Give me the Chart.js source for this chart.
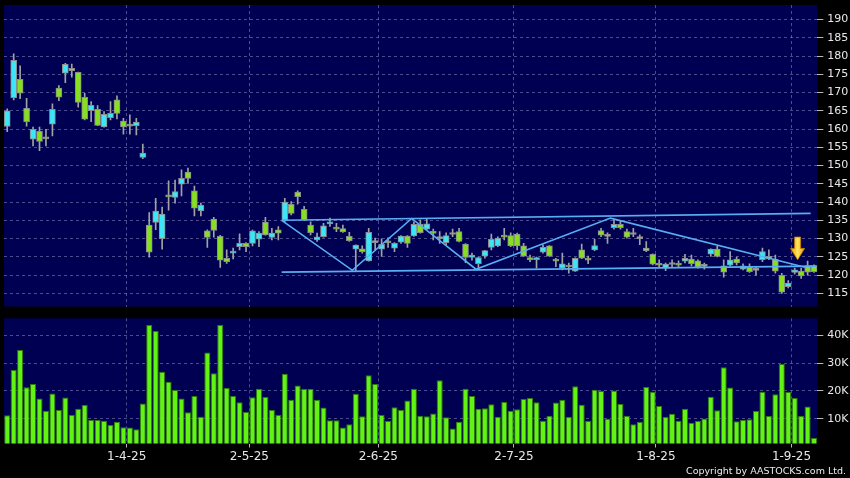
<!DOCTYPE html>
<html lang="en">
<head>
<meta charset="UTF-8">
<title>Daily candles and volume</title>
<script src="https://cdn.jsdelivr.net/npm/chart.js"></script>
<style>
  html, body { margin: 0; padding: 0; background: #000; }
  #wrap { position: relative; width: 850px; height: 478px; overflow: hidden; background: #000; }
  #priceBox { position: absolute; left: 0; top: 0; width: 850px; height: 312px; }
  #volBox { position: absolute; left: 0; top: 312px; width: 850px; height: 166px; }
  .copy { position: absolute; right: 4px; top: 465px; color: #ececec; font: 9.5px "DejaVu Sans", sans-serif; white-space: nowrap; }
</style>
</head>
<body>
<div id="wrap">
  <div id="priceBox"><canvas id="priceChart" width="850" height="312"></canvas></div>
  <div id="volBox"><canvas id="volChart" width="850" height="166"></canvas></div>
  <div class="copy">Copyright by AASTOCKS.com Ltd.</div>
</div>

<script>
// trading days 5 Mar 2025 - 4 Sep 2025 (HK holidays skipped)
const firstDay = '2025-03-05';
const lastDay = '2025-09-04';
const holidays = ['2025-04-04', '2025-04-18', '2025-04-21', '2025-05-01', '2025-05-05', '2025-07-01'];
const tickLabels = ['1-4-25', '2-5-25', '2-6-25', '2-7-25', '1-8-25', '1-9-25'];

const openP = [160.7,168.6,173.6,165.7,157.2,159.4,157.5,161.3,171.2,175.3,176.6,175.5,168.7,165.0,165.4,160.6,163.1,168.0,162.2,161.0,
  160.9,152.2,133.7,134.4,130.0,141.6,141.3,144.9,148.2,143.1,137.6,132.1,135.3,130.6,124.6,126.0,127.8,128.7,128.7,129.8,
  134.5,130.3,132.4,135.1,139.4,142.7,138.0,133.7,129.6,130.5,134.0,132.7,132.7,130.6,127.1,127.2,123.9,129.1,127.1,129.0,
  127.4,129.0,130.7,130.7,133.9,132.6,131.5,130.2,128.9,131.1,131.9,128.5,124.8,123.1,125.2,127.6,128.0,130.6,130.8,131.2,
  128.0,124.8,124.2,126.3,128.0,124.0,121.9,122.4,121.1,126.9,124.2,126.9,132.2,130.8,133.0,133.9,131.9,131.3,130.2,127.4,
  125.7,122.9,121.9,123.1,123.1,123.8,124.4,123.9,122.6,125.7,127.1,122.5,122.7,124.4,121.6,122.3,121.5,124.2,125.1,124.3,
  119.9,116.8,120.7,121.1,122.6,122.6];
const highP = [165.5,180.6,177.3,168.4,160.5,160.5,159.9,166.9,171.9,178.0,177.8,175.6,169.8,167.5,166.4,164.8,167.5,169.1,162.9,163.9,
  162.9,155.9,137.1,141.0,138.6,145.8,146.0,148.8,149.3,144.4,139.7,132.4,135.8,130.9,126.9,127.4,131.3,128.9,132.3,131.9,
  135.8,132.8,133.3,141.0,140.1,143.1,138.8,134.6,131.5,134.2,135.6,134.2,133.7,131.7,128.3,128.0,132.8,130.1,129.9,130.2,
  128.9,130.8,130.8,134.6,135.1,135.3,132.6,131.9,131.6,132.6,132.8,128.6,126.0,124.9,126.8,131.2,130.5,132.8,131.6,131.5,
  128.7,125.5,124.9,128.3,128.1,124.6,126.0,123.3,124.7,128.5,125.2,129.8,132.8,131.6,135.3,134.9,132.6,132.8,131.0,129.2,
  125.8,124.2,123.3,124.2,123.9,125.7,125.5,124.2,123.3,127.2,127.9,124.2,126.4,124.9,123.1,123.1,122.3,127.4,126.9,125.5,
  120.5,118.5,121.9,121.9,123.8,122.8];
const lowP = [159.3,168.0,168.3,160.8,155.4,154.1,155.4,158.1,167.8,172.7,174.2,166.0,162.5,162.0,160.9,160.5,162.5,162.8,158.6,158.6,
  158.4,151.9,124.9,132.4,127.1,137.8,139.7,141.7,145.1,136.2,136.2,127.6,130.4,122.1,123.2,124.4,126.9,126.4,128.0,127.8,
  130.9,129.6,129.6,134.6,136.5,139.4,135.0,131.0,129.2,130.4,133.3,131.9,131.7,129.2,121.2,126.0,123.8,126.7,125.1,127.6,
  126.4,128.7,127.6,130.6,131.5,132.4,129.6,128.7,128.3,130.5,129.1,123.4,124.1,121.4,124.6,126.9,127.8,129.6,127.8,126.9,
  125.1,123.7,121.9,126.0,125.1,122.3,121.4,120.5,121.0,124.5,123.1,126.7,130.5,128.7,132.6,132.6,130.1,130.5,128.3,126.4,
  122.8,122.3,121.2,122.3,122.0,123.3,122.5,121.9,121.6,125.1,125.0,119.4,122.5,122.8,121.4,120.7,120.0,123.7,124.2,120.5,
  115.0,116.5,120.3,119.1,120.0,120.7];
const closeP = [165.0,178.8,169.8,162.0,159.9,156.6,157.3,165.4,168.7,177.7,176.0,167.3,162.7,166.5,161.0,164.0,164.3,164.3,160.6,160.8,
  161.9,153.4,126.3,137.5,136.7,141.4,142.9,146.5,146.5,138.3,139.2,130.3,132.2,124.1,123.7,126.6,128.7,127.8,132.1,131.5,
  131.0,131.5,131.5,140.0,136.9,141.5,135.1,131.6,130.5,133.5,134.6,132.6,131.8,129.4,128.2,126.4,131.7,128.9,128.4,128.8,
  128.7,130.7,128.7,133.9,131.6,134.0,131.4,130.0,130.8,131.6,129.2,124.8,125.5,124.8,126.7,129.8,130.1,130.4,128.0,128.0,
  125.2,124.2,124.8,127.6,125.2,123.8,123.1,122.2,124.6,124.6,124.1,128.1,130.9,130.6,133.9,133.0,130.4,131.1,130.0,126.7,
  123.0,122.7,123.0,122.9,122.7,124.6,123.1,122.2,122.4,127.1,125.1,120.8,124.2,123.3,122.5,120.9,121.3,126.4,124.4,121.1,
  115.3,117.8,121.4,119.8,120.8,120.9];
// volume in thousands of shares
const volumeK = [11.2,27.5,34.7,21.3,22.5,17.3,12.9,19.1,13.1,17.6,11.3,13.6,14.9,9.5,9.5,9.3,7.7,8.9,6.9,6.8,
  6.2,15.5,43.7,41.5,26.9,23.3,20.3,17.3,12.3,18.2,10.7,33.8,26.3,43.7,21.0,18.2,15.9,12.4,17.7,20.8,
  17.8,13.1,11.3,26.2,16.8,21.9,20.7,20.7,16.8,14.0,9.4,9.4,6.8,8.0,19.0,10.9,25.6,22.5,11.3,9.2,
  14.1,13.1,16.5,20.7,11.1,10.9,11.9,23.8,10.5,6.5,8.9,20.8,18.2,13.6,13.8,15.2,10.7,16.0,12.9,13.4,
  17.1,17.4,15.9,9.3,11.1,15.8,16.8,10.6,21.7,15.0,9.2,20.4,20.0,10.0,20.1,15.3,11.1,8.0,8.8,21.4,
  19.7,14.6,10.6,11.8,9.3,13.6,8.5,9.2,10.1,17.9,13.0,28.5,21.2,9.1,9.5,9.8,12.8,19.7,11.0,18.8,
  29.7,19.6,17.4,11.0,14.4,3.1];

// drawn lines, x = trading-day index, y = price
const upperLine = [{x: 42.52, y: 135.0}, {x: 124.47, y: 136.9}];
const lowerLine = [{x: 42.52, y: 120.8}, {x: 125.4, y: 122.45}];
const zigzag = [{x: 42.52, y: 135.0}, {x: 53.46, y: 121.3}, {x: 62.66, y: 135.5},
  {x: 72.62, y: 121.6}, {x: 93.46, y: 135.6}, {x: 123.59, y: 122.15}];
const arrowMark = {x: 122.45, top: 130.4, tip: 124.2};

// categories
const categories = [];
for (let d = new Date(firstDay + 'T00:00:00Z'); d <= new Date(lastDay + 'T00:00:00Z'); d.setUTCDate(d.getUTCDate() + 1)) {
    const wd = d.getUTCDay();
    const iso = d.toISOString().slice(0, 10);
    if (wd === 0 || wd === 6 || holidays.includes(iso)) continue;
    categories.push(d.getUTCDate() + '-' + (d.getUTCMonth() + 1) + '-' + String(d.getUTCFullYear()).slice(2));
}

const navy = '#000052';
const gridColor = 'rgba(150,150,200,0.5)';
const labelColor = '#e8e8e8';
const upColor = '#3de6f7';
const downColor = '#86e021';

Chart.defaults.font.family = '"DejaVu Sans", sans-serif';

const bodies = openP.map((o, i) => [o, closeP[i]]);
const wicks = lowP.map((l, i) => [l, highP[i]]);
const bodyColors = openP.map((o, i) => closeP[i] >= o ? upColor : downColor);

function isLabelled(i) { return tickLabels.includes(categories[i]); }

// right axis: fixed width, no extra label padding above/below the plot
function fitRight(s) {
    s.width = 32.7;
    s.paddingTop = 0;
    s.paddingBottom = 0;
}

const plotBg = {
    id: 'plotBg',
    beforeDraw(chart) {
        const a = chart.chartArea;
        chart.ctx.save();
        chart.ctx.fillStyle = navy;
        chart.ctx.fillRect(a.left, a.top, a.right - a.left, a.bottom - a.top);
        chart.ctx.restore();
    }
};

const arrowPlugin = {
    id: 'arrowMark',
    afterDatasetsDraw(chart) {
        const ctx = chart.ctx;
        const cx = chart.scales.xl.getPixelForValue(arrowMark.x);
        const top = chart.scales.y.getPixelForValue(arrowMark.top);
        const tip = chart.scales.y.getPixelForValue(arrowMark.tip);
        const neck = top + (tip - top) * 0.5;
        const g = ctx.createLinearGradient(cx - 7, 0, cx + 7, 0);
        g.addColorStop(0, '#e89a00');
        g.addColorStop(0.5, '#ffe45a');
        g.addColorStop(1, '#e89a00');
        ctx.save();
        ctx.beginPath();
        ctx.moveTo(cx - 3, top);
        ctx.lineTo(cx + 3, top);
        ctx.lineTo(cx + 3, neck);
        ctx.lineTo(cx + 7, neck);
        ctx.lineTo(cx, tip);
        ctx.lineTo(cx - 7, neck);
        ctx.lineTo(cx - 3, neck);
        ctx.closePath();
        ctx.fillStyle = g;
        ctx.fill();
        ctx.strokeStyle = '#c98400';
        ctx.lineWidth = 0.8;
        ctx.stroke();
        ctx.restore();
    }
};

function trend(data) {
    return {
        type: 'line', xAxisID: 'xl', yAxisID: 'y', data: data,
        borderColor: '#58aef2', borderWidth: 1.6, pointRadius: 0, order: -1
    };
}

new Chart(document.getElementById('priceChart'), {
    type: 'bar',
    data: {
        labels: categories,
        datasets: [
            trend(upperLine),
            trend(lowerLine),
            trend(zigzag),
            {
                data: bodies, backgroundColor: bodyColors, borderColor: '#8c8c8c',
                borderWidth: 1, borderSkipped: false, barThickness: 6, minBarLength: 2,
                grouped: false, order: 1
            },
            {
                data: wicks, backgroundColor: '#a2a2a2', barThickness: 1,
                grouped: false, order: 2
            }
        ]
    },
    options: {
        responsive: false,
        devicePixelRatio: 1,
        animation: false,
        layout: { padding: { top: 5, left: 4, right: 0, bottom: 5.5 } },
        plugins: { legend: { display: false }, tooltip: { enabled: false } },
        scales: {
            x: {
                offset: true,
                grid: {
                    offset: true,
                    color: c => isLabelled(c.index) ? gridColor : 'transparent',
                    drawTicks: false
                },
                border: { display: false, dash: [3, 3] },
                ticks: { display: false, autoSkip: false },
                afterFit: s => { s.height = 0; }
            },
            xl: {
                type: 'linear', display: false, offset: false,
                min: -0.5, max: categories.length - 0.5
            },
            y: {
                position: 'right',
                min: 111.39,
                max: 193.97,
                grid: { color: gridColor, tickColor: '#b8b8b8', tickLength: 6 },
                border: { display: false, dash: [3, 3] },
                ticks: {
                    stepSize: 5, includeBounds: false, padding: 4,
                    color: labelColor, font: { size: 11 }
                },
                afterFit: fitRight
            }
        }
    },
    plugins: [plotBg, arrowPlugin]
});

new Chart(document.getElementById('volChart'), {
    type: 'bar',
    data: {
        labels: categories,
        datasets: [{
            data: volumeK, backgroundColor: '#62f314', borderColor: '#2f7a0a',
            borderWidth: 1, barPercentage: 1, categoryPercentage: 0.94
        }]
    },
    options: {
        responsive: false,
        devicePixelRatio: 1,
        animation: false,
        layout: { padding: { top: 6.3, left: 4, right: 0, bottom: 0 } },
        plugins: { legend: { display: false }, tooltip: { enabled: false } },
        scales: {
            x: {
                offset: true,
                grid: {
                    offset: true,
                    color: c => isLabelled(c.index) ? gridColor : 'transparent',
                    tickColor: c => isLabelled(c.index) ? '#b8b8b8' : 'transparent',
                    drawTicks: true,
                    tickLength: 4
                },
                border: { display: false, dash: [3, 3] },
                ticks: {
                    autoSkip: false, maxRotation: 0, padding: 2.3, labelOffset: -3.2,
                    color: labelColor, font: { size: 12 },
                    callback: (v, i) => isLabelled(i) ? categories[i] : ''
                },
                afterFit: s => { s.height = 34.5; }
            },
            y: {
                position: 'right',
                min: 1.08,
                max: 46.1,
                grid: { color: gridColor, tickColor: '#b8b8b8', tickLength: 6 },
                border: { display: false, dash: [3, 3] },
                ticks: {
                    stepSize: 10, includeBounds: false, padding: 4,
                    color: labelColor, font: { size: 11 },
                    callback: v => v + 'K'
                },
                afterFit: fitRight
            }
        }
    },
    plugins: [plotBg]
});
</script>
</body>
</html>
